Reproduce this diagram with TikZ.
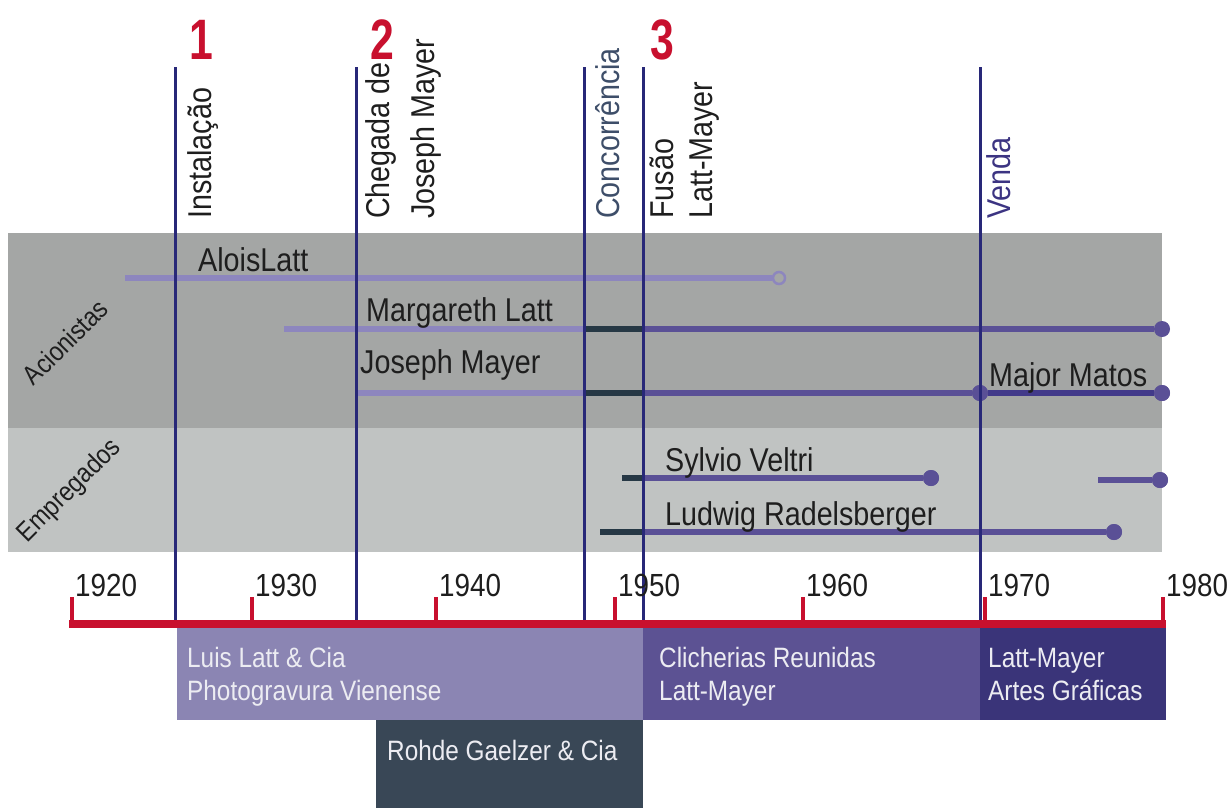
\documentclass[tikz,border=0pt]{standalone}
\usepackage{fontspec}
\setmainfont{Liberation Sans}[FakeStretch=0.87]
\newfontfamily\numfont{Liberation Sans}[FakeStretch=0.75]
\definecolor{navy}{RGB}{40,40,120}
\definecolor{tred}{RGB}{200,16,46}
\definecolor{bandA}{RGB}{164,166,165}
\definecolor{bandB}{RGB}{192,195,194}
\definecolor{clight}{RGB}{141,134,190}
\definecolor{cmid}{RGB}{90,80,150}
\definecolor{cdeep}{RGB}{66,58,138}
\definecolor{cdark}{RGB}{38,56,69}
\definecolor{boxA}{RGB}{139,133,179}
\definecolor{boxB}{RGB}{92,82,147}
\definecolor{boxC}{RGB}{58,52,121}
\definecolor{boxD}{RGB}{57,71,86}
\definecolor{txt}{RGB}{30,30,30}
\definecolor{boxtxt}{RGB}{236,236,242}
\definecolor{conctxt}{RGB}{62,78,105}
\definecolor{vendatxt}{RGB}{60,52,130}
\tikzset{
  lbl/.style={inner sep=0, anchor=base west, text=txt, font=\fontsize{33}{33}\selectfont},
  evt/.style={lbl, rotate=90},
  yearlbl/.style={inner sep=0, anchor=base west, text=txt, font=\fontsize{32}{32}\selectfont},
  bignum/.style={inner sep=0, anchor=base, text=tred, font=\numfont\bfseries\fontsize{57}{57}\selectfont},
  boxlbl/.style={inner sep=0, anchor=base west, text=boxtxt, font=\fontsize{28}{28}\selectfont},
  grouplbl/.style={inner sep=0, text=txt, rotate=45, font=\fontsize{27}{27}\selectfont},
  periodbox/.style={inner sep=0, anchor=north west, draw=none},
  evline/.style={draw=navy, line width=3pt},
  pline/.style={line width=5.5pt},
  dot/.style={circle, inner sep=0, minimum size=16pt, fill=cmid},
  odot/.style={circle, inner sep=0, minimum size=12pt, draw=clight, line width=2.5pt, fill=bandA},
  tick/.style={draw=tred, line width=4pt},
}
\begin{document}
\begin{tikzpicture}[x=1pt, y=-1pt]
\useasboundingbox (0,0) rectangle (1229,807);
% bands
\node[periodbox, fill=bandA, minimum width=1154pt, minimum height=195pt] (bandacion) at (8,233) {};
\node[periodbox, fill=bandB, minimum width=1154pt, minimum height=124pt] (bandemp) at (8,428) {};
\node[grouplbl] (acion) at (65,342) {Acionistas};
\node[grouplbl] (emp) at (70,491) {Empregados};

% person lines
\coordinate (al0) at (125,278);
\node[odot] (al1) at (779,278) {};
\draw[pline, clight] (al0) -- (al1.west);
\node[lbl] (allbl) at (198,271) {AloisLatt};

\coordinate (ma0) at (284,329);
\coordinate (ma1) at (584,329);
\coordinate (ma2) at (643,329);
\node[dot] (ma3) at (1162,329) {};
\draw[pline, clight] (ma0) -- (ma1);
\draw[pline, cdark] (ma1) -- (ma2);
\draw[pline, cmid] (ma2) -- (ma3);
\node[lbl] (malbl) at (366,321) {Margareth Latt};

\coordinate (jo0) at (356,393);
\coordinate (jo1) at (584,393);
\coordinate (jo2) at (643,393);
\node[dot] (jo3) at (980,393) {};
\node[dot] (jo4) at (1162,393) {};
\draw[pline, clight] (jo0) -- (jo1);
\draw[pline, cdark] (jo1) -- (jo2);
\draw[pline, cmid] (jo2) -- (jo3);
\draw[pline, cdeep] (jo3) -- (jo4);
\node[dot] at (jo3) {};
\node[dot] at (jo4) {};
\node[lbl] (jolbl) at (360,373) {Joseph Mayer};
\node[lbl] (mmlbl) at (989,386) {Major Matos};

\coordinate (sy0) at (622,478);
\coordinate (sy1) at (643,478);
\node[dot] (sy2) at (931,478) {};
\draw[pline, cdark] (sy0) -- (sy1);
\draw[pline, cmid] (sy1) -- (sy2);
\node[dot] at (sy2) {};
\node[lbl] (sylbl) at (665,471) {Sylvio Veltri};

\coordinate (sx0) at (1098,480);
\node[dot] (sx1) at (1160,480) {};
\draw[pline, cmid] (sx0) -- (sx1);
\node[dot] at (sx1) {};

\coordinate (lu0) at (600,532);
\coordinate (lu1) at (643,532);
\node[dot] (lu2) at (1114,532) {};
\draw[pline, cdark] (lu0) -- (lu1);
\draw[pline, cmid] (lu1) -- (lu2);
\node[dot] at (lu2) {};
\node[lbl] (lulbl) at (665,525) {Ludwig Radelsberger};

% event lines
\foreach \n/\x in {inst/175, cheg/356, conc/584, fus/643, ven/980}{
  \coordinate (\n-top) at (\x,67);
  \coordinate (\n-bot) at (\x,626);
  \draw[evline] (\n-top) -- (\n-bot);
}
\node[evt] (instlbl) at (211,219) {Instalação};
\node[evt] (cheglbl) at (389,219) {Chegada de};
\node[evt] (joslbl) at (434,219) {Joseph Mayer};
\node[evt, text=conctxt] (conclbl) at (619,219) {Concorrência};
\node[evt] (fuslbl) at (673,219) {Fusão};
\node[evt] (lmlbl) at (712,219) {Latt-Mayer};
\node[evt, text=vendatxt] (venlbl) at (1010,219) {Venda};
\node[bignum] (n1) at (201,59) {1};
\node[bignum] (n2) at (382,59) {2};
\node[bignum] (n3) at (662,59) {3};

% period boxes
\node[periodbox, fill=boxA, minimum width=466pt, minimum height=92pt] (pA) at (177,628) {};
\node[periodbox, fill=boxB, minimum width=337pt, minimum height=92pt] (pB) at (643,628) {};
\node[periodbox, fill=boxC, minimum width=186pt, minimum height=92pt] (pC) at (980,628) {};
\node[periodbox, fill=boxD, minimum width=267pt, minimum height=88pt] (pD) at (376,720) {};
\node[boxlbl] (pA1) at (187,667) {Luis Latt \& Cia};
\node[boxlbl] (pA2) at (187,700) {Photogravura Vienense};
\node[boxlbl] (pB1) at (659,667) {Clicherias Reunidas};
\node[boxlbl] (pB2) at (659,700) {Latt-Mayer};
\node[boxlbl] (pC1) at (988,667) {Latt-Mayer};
\node[boxlbl] (pC2) at (988,700) {Artes Gráficas};
\node[boxlbl] (pD1) at (387,760) {Rohde Gaelzer \& Cia};

% timeline
\coordinate (tl0) at (69,624);
\coordinate (tl1) at (1166,624);
\draw[draw=tred, line width=8pt] (tl0) -- (tl1);
\foreach \y/\x in {1920/72, 1930/252, 1940/436, 1950/615, 1960/803, 1970/985, 1980/1163}{
  \coordinate (t\y) at (\x,624);
  \coordinate (t\y-top) at (\x,597);
  \draw[tick] (t\y) -- (t\y-top);
  \node[yearlbl] (y\y) at (\x+3,596) {\y};
}
\end{tikzpicture}
\end{document}
